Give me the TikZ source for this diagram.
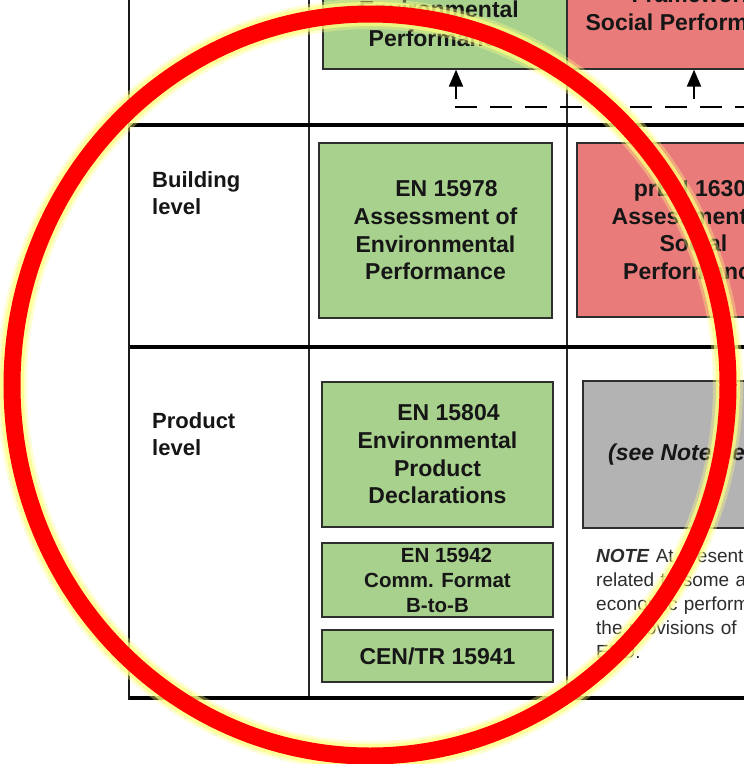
\documentclass[tikz,border=0pt]{standalone}
\usepackage{fontspec}
\setmainfont{Liberation Sans}
\usetikzlibrary{arrows.meta}
\definecolor{envgreen}{HTML}{A9D18E}
\definecolor{socred}{HTML}{E97B7B}
\definecolor{ngray}{HTML}{B3B3B3}
\definecolor{boxline}{HTML}{2E2E2E}
\definecolor{txt}{HTML}{161616}
\definecolor{glow}{HTML}{FFFF80}
\begin{document}
\begin{tikzpicture}[x=1pt,y=-1pt,
 box/.style={draw=boxline,line width=1.3pt,inner sep=0pt,align=center,text=txt,font=\bfseries\fontsize{23pt}{27.7pt}\selectfont},
 gbox/.style={box,fill=envgreen},
 rbox/.style={box,fill=socred},
 graybox/.style={box,fill=ngray,font=\bfseries\itshape\fontsize{23pt}{27.7pt}\selectfont},
 heavyrule/.style={line width=3.8pt,black},
 lightrule/.style={line width=1.4pt,black!85},
 leftrule/.style={line width=2.8pt,black!90},
 lvl/.style={anchor=base west,align=left,text width=150pt,inner sep=0pt,text=txt,font=\bfseries\fontsize{22pt}{27pt}\selectfont},
 upar/.style={line width=2.2pt,-{Triangle[length=17pt,width=14pt]}},
 dashln/.style={line width=2.4pt,dash pattern=on 22pt off 13pt},
 notetext/.style={anchor=base west,align=left,text width=320pt,inner sep=0pt,text=txt!90,font=\fontsize{19pt}{24.2pt}\selectfont},
 toptext/.style={anchor=base,inner sep=0pt,text=txt,font=\bfseries\fontsize{23pt}{27.7pt}\selectfont}
]
\useasboundingbox (0,0) rectangle (744,764);
\fill[white] (0,0) rectangle (744,764);
\clip (0,0) rectangle (744,764);

% table rules
\draw[lightrule] (309,-10) -- (309,698);
\draw[lightrule] (567,-10) -- (567,698);
\draw[heavyrule] (129,125) -- (760,125);
\draw[heavyrule] (129,347) -- (760,347);
\draw[heavyrule] (127.6,698) -- (760,698);
\draw[leftrule] (129,-10) -- (129,699.5);

% top row boxes (cut by the top edge)
\node[gbox,minimum width=244pt,minimum height=129pt] (topgreen) at (445,4.5) {};
\node[rbox,minimum width=263pt,minimum height=129pt] (topred) at (698.5,4.5) {};
\node[toptext] (tg1) at (439,17) {Environmental};
\node[toptext] (tg2) at (439,46) {Performance};
\node[toptext] (tr1) at (693,2) {Framework};
\node[toptext] (tr2) at (693,30) {Social Performance};

% dashed feedback line and arrows
\coordinate (dstart) at (455,107);
\coordinate (dend) at (760,107);
\draw[dashln] (dstart) -- (dend);
\coordinate (a1) at (456,99);
\coordinate (a2) at (694,99);
\draw[upar] (a1) -- (a1 |- topgreen.south);
\draw[upar] (a2) -- (a2 |- topred.south);

% row labels
\node[lvl] (bl) at (152,187) {Building\\level};
\node[lvl] (pl) at (152,428) {Product\\level};

% building level
\node[gbox,minimum width=233pt,minimum height=175pt] (bgreen) at (435.5,230.5)
  {\hspace*{22pt}EN 15978\\Assessment of\\Environmental\\Performance};
\node[rbox,minimum width=233pt,minimum height=174pt] (bred) at (693.5,230)
  {\hspace*{6pt}prEN 16309\\Assessment of\\Social\\Performance};

% product level
\node[gbox,minimum width=231pt,minimum height=145pt] (p1) at (437.5,454.5)
  {\hspace*{22pt}EN 15804\\Environmental\\Product\\Declarations};
\node[gbox,minimum width=231pt,minimum height=74pt,font=\bfseries\fontsize{20.5pt}{25pt}\selectfont] (p2) at (437.5,580)
  {\hspace*{18pt}EN 15942\\Comm. Format\\B-to-B};
\node[gbox,minimum width=231pt,minimum height=52pt] (p3) at (437.5,656) {CEN/TR 15941};
\node[graybox,minimum width=233pt,minimum height=147pt] (gray) at (699.5,454.5) {(see Note below)};

\node[notetext] (note) at (596,562)
  {\textbf{\textit{NOTE}} At present,\\related to some aspects\\economic performance\\the provisions of\\EPD.};

% highlight ellipse
\draw[line width=30pt,glow,opacity=0.35] (370,385) ellipse [x radius=358pt,y radius=371pt];
\draw[line width=24pt,glow,opacity=0.7] (370,385) ellipse [x radius=358pt,y radius=371pt];
\draw[line width=17pt,red] (370,385) ellipse [x radius=358pt,y radius=371pt];
\end{tikzpicture}
\end{document}
